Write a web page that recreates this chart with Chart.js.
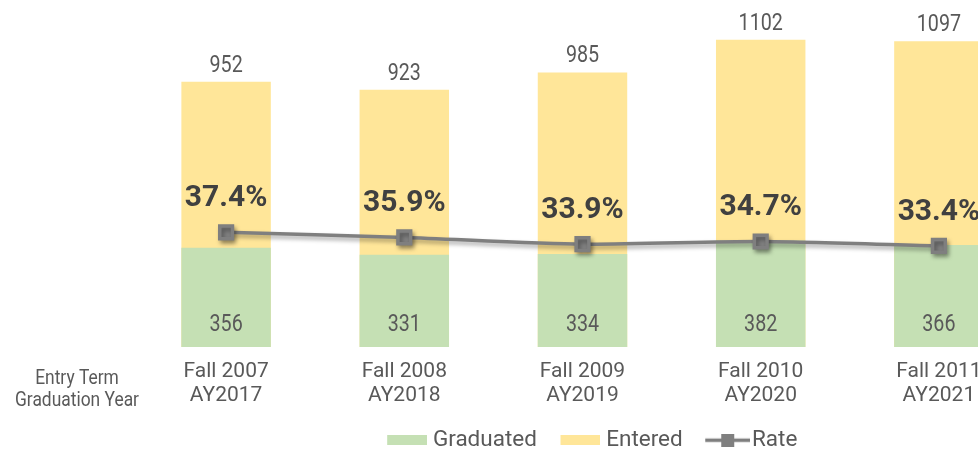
<!DOCTYPE html>
<html>
<head>
<meta charset="utf-8">
<script src="https://cdn.jsdelivr.net/npm/chart.js@4"></script>
<style>
    html, body { margin: 0; padding: 0; background: #fff; overflow: hidden; }
    #wrap { width: 978px; height: 449px; overflow: hidden; position: relative; }
    canvas { position: absolute; left: 0; top: 0; }
</style>
</head>
<body>
<div id="wrap">
    <canvas id="chart" width="1180" height="449"></canvas>
</div>
<script>
let ENTRY_TERMS = ['Fall 2007', 'Fall 2008', 'Fall 2009', 'Fall 2010', 'Fall 2011']
let GRAD_YEARS = ['AY2017', 'AY2018', 'AY2019', 'AY2020', 'AY2021']
let ENTERED = [952, 923, 985, 1102, 1097]
let GRADUATED = [356, 331, 334, 382, 366]
let RATE = [37.4, 35.9, 33.9, 34.7, 33.4]

const GREEN = '#c5e0b4'
const YELLOW = '#ffe699'
const LINE_GREY = '#7f7f7f'
const TEXT_GREY = '#595959'
const FONT = 'Roboto, "Noto Sans", sans-serif'

let labels = ENTRY_TERMS.map((t, i) => [t, GRAD_YEARS[i]])

// legend symbols, padded on the left so they sit close to their text
function make_swatch(color) {
    let c = document.createElement('canvas')
    c.width = 51
    c.height = 10
    let ctx = c.getContext('2d')
    ctx.fillStyle = color
    ctx.fillRect(11, 0, 40, 10)
    return c
}

function make_line_marker() {
    let c = document.createElement('canvas')
    c.width = 59
    c.height = 13
    let ctx = c.getContext('2d')
    ctx.strokeStyle = LINE_GREY
    ctx.lineWidth = 3.5
    ctx.beginPath()
    ctx.moveTo(14, 6.5)
    ctx.lineTo(59, 6.5)
    ctx.stroke()
    ctx.fillStyle = LINE_GREY
    ctx.fillRect(30, 0, 13, 13)
    return c
}

let legend_icons = [make_swatch(GREEN), make_swatch(YELLOW), make_line_marker()]

// narrow text, the original uses a condensed face
function draw_text(ctx, text, x, y, font, color, sx) {
    ctx.save()
    ctx.font = font
    ctx.fillStyle = color
    ctx.textAlign = 'center'
    ctx.textBaseline = 'middle'
    ctx.translate(x, y)
    ctx.scale(sx, 1)
    ctx.fillText(text, 0, 0)
    ctx.restore()
}

const value_labels = {
    id: 'value_labels',
    afterDatasetsDraw(chart) {
        let ctx = chart.ctx
        let grad = chart.getDatasetMeta(0)
        let ent = chart.getDatasetMeta(1)
        let rate = chart.getDatasetMeta(2)
        for (let i = 0; i < labels.length; i++) {
            let g = grad.data[i]
            let e = ent.data[i]
            let r = rate.data[i]
            draw_text(ctx, String(GRADUATED[i]), g.x, g.base - 22.5, '24px ' + FONT, TEXT_GREY, 0.82)
            draw_text(ctx, String(ENTERED[i]), e.x, e.y - 16, '24px ' + FONT, TEXT_GREY, 0.82)
            draw_text(ctx, RATE[i].toFixed(1) + '%', r.x, r.y - 33.5, 'bold 30px ' + FONT, '#404040', 1)
        }
        // axis caption at the left of the tick labels
        let x_scale = chart.scales.x
        let cx = chart.chartArea.left - 60
        draw_text(ctx, 'Entry Term', cx, x_scale.top + 32, '20px ' + FONT, TEXT_GREY, 0.87)
        draw_text(ctx, 'Graduation Year', cx, x_scale.top + 54, '20px ' + FONT, TEXT_GREY, 0.87)
    }
}

const line_shadow = {
    id: 'line_shadow',
    beforeDatasetDraw(chart, args) {
        if (args.index !== 2) return
        let ctx = chart.ctx
        ctx.save()
        ctx.shadowColor = 'rgba(0,0,0,0.35)'
        ctx.shadowBlur = 4
        ctx.shadowOffsetX = 2
        ctx.shadowOffsetY = 3
    },
    afterDatasetDraw(chart, args) {
        if (args.index !== 2) return
        chart.ctx.restore()
    }
}

// legend sits a bit right of the plot centre in the original
const legend_shift = {
    id: 'legend_shift',
    afterLayout(chart) {
        chart.legend.left += 7
        chart.legend.right += 7
    }
}

let ctx = document.getElementById('chart').getContext('2d')
let chart = new Chart(ctx, {
    type: 'bar',
    data: {
        labels: labels,
        datasets: [{
            label: 'Graduated',
            data: GRADUATED,
            backgroundColor: GREEN,
            order: 1,
            barPercentage: 1,
            categoryPercentage: 0.502
        }, {
            label: 'Entered',
            data: ENTERED,
            backgroundColor: YELLOW,
            order: 2,
            barPercentage: 1,
            categoryPercentage: 0.502
        }, {
            type: 'line',
            label: 'Rate',
            data: RATE,
            yAxisID: 'y2',
            borderColor: LINE_GREY,
            backgroundColor: LINE_GREY,
            borderWidth: 3.5,
            pointStyle: 'rect',
            pointRadius: 9,
            pointHoverRadius: 9,
            tension: 0.25,
            order: 0
        }]
    },
    options: {
        responsive: false,
        animation: false,
        devicePixelRatio: 1,
        layout: {
            padding: { left: 137, right: 152, top: 10, bottom: -12.5 }
        },
        scales: {
            x: {
                stacked: true,
                grid: { display: false, drawTicks: false },
                border: { display: false },
                ticks: {
                    color: TEXT_GREY,
                    font: { family: FONT, size: 21, lineHeight: 1.13 },
                    padding: 13,
                    maxRotation: 0,
                    autoSkip: false
                },
                afterFit(scale) { scale.height = 64 }
            },
            y: {
                display: false,
                min: 0,
                max: 1200,
                stacked: false
            },
            y2: {
                display: false,
                min: 3.6,
                max: 102.2
            }
        },
        plugins: {
            tooltip: { enabled: false },
            legend: {
                position: 'bottom',
                labels: {
                    usePointStyle: true,
                    pointStyleWidth: 40,
                    color: TEXT_GREY,
                    font: { family: FONT, size: 22.5 },
                    padding: 18,
                    sort: (a, b) => a.datasetIndex - b.datasetIndex,
                    generateLabels(chart) {
                        let items = Chart.defaults.plugins.legend.labels.generateLabels(chart)
                        items.forEach(it => { it.pointStyle = legend_icons[it.datasetIndex] })
                        return items
                    }
                }
            }
        }
    },
    plugins: [value_labels, line_shadow, legend_shift]
})
</script>
</body>
</html>
